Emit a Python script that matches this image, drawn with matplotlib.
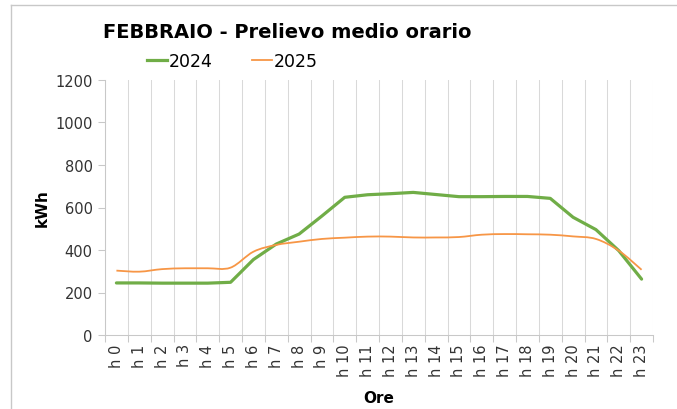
import matplotlib
matplotlib.use("Agg")
import matplotlib.pyplot as plt
from matplotlib.path import Path
from matplotlib.patches import PathPatch
from matplotlib.lines import Line2D
import numpy as np

hours = ["h 0", "h 1", "h 2", "h 3", "h 4", "h 5", "h 6", "h 7", "h 8", "h 9",
         "h 10", "h 11", "h 12", "h 13", "h 14", "h 15", "h 16", "h 17", "h 18",
         "h 19", "h 20", "h 21", "h 22", "h 23"]
v2024 = [245, 245, 244, 244, 244, 248, 355, 428, 475, 560, 648, 660, 665, 671,
         661, 651, 651, 652, 652, 643, 554, 496, 397, 263]
v2025 = [303, 298, 310, 314, 314, 317, 392, 424, 439, 452, 458, 463, 463, 459,
         459, 461, 472, 475, 474, 472, 464, 452, 397, 307]
title = "FEBBRAIO - Prelievo medio orario"
yticks = [0, 200, 400, 600, 800, 1000, 1200]

W, H = 677, 410
fig = plt.figure(figsize=(W / 100, H / 100), dpi=100)
ax = fig.add_axes([105 / W, (H - 336) / H, (653 - 105) / W, (336 - 81) / H])

x = np.arange(len(hours))

# 2024 straight line
ax.plot(x, v2024, color="#70AD47", lw=2.3, solid_joinstyle="round",
        solid_capstyle="round", zorder=3)


# 2025 smoothed line (Catmull-Rom style cubic Bezier, as Excel does)
def smooth_path(xs, ys):
    P = np.column_stack([xs, ys]).astype(float)
    n = len(P)
    verts = [P[0]]
    codes = [Path.MOVETO]
    for i in range(n - 1):
        p0 = P[i - 1] if i > 0 else P[i]
        p1 = P[i]
        p2 = P[i + 1]
        p3 = P[i + 2] if i + 2 < n else P[i + 1]
        c1 = p1 + (p2 - p0) / 6.0
        c2 = p2 - (p3 - p1) / 6.0
        verts += [c1, c2, p2]
        codes += [Path.CURVE4] * 3
    return Path(verts, codes)


patch = PathPatch(smooth_path(x, v2025), facecolor="none", edgecolor="#F79646",
                  lw=1.3, zorder=3)
ax.add_patch(patch)

ax.set_xlim(-0.5, len(hours) - 0.5)
ax.set_ylim(0, 1200)
ax.set_yticks(yticks)
ax.set_yticklabels([str(t) for t in yticks], fontsize=10.5, color="#333333")
ax.set_xticks(x)
ax.set_xticklabels(hours, rotation=90, fontsize=10.5, color="#333333")
ax.tick_params(axis="x", which="major", length=0, pad=6)
ax.set_xticks(np.arange(-0.5, len(hours), 1.0), minor=True)
ax.tick_params(axis="x", which="minor", length=5, color="#c8c8c8", width=0.75,
               direction="out")
ax.tick_params(axis="y", which="major", length=5, color="#c8c8c8", width=0.75,
               direction="out", pad=4)
ax.grid(True, axis="x", which="minor", color="#d9d9d9", lw=0.75)
ax.grid(False, axis="y")
for s in ["top", "right"]:
    ax.spines[s].set_visible(False)
ax.spines["left"].set_color("#c8c8c8")
ax.spines["bottom"].set_color("#c8c8c8")
ax.spines["left"].set_linewidth(0.75)
ax.spines["bottom"].set_linewidth(0.75)

ax.set_xlabel("Ore", fontsize=11, fontweight="bold", labelpad=10)
ax.set_ylabel("kWh", fontsize=11, fontweight="bold", labelpad=4)

fig.text(103 / W, 1 - 32 / H, title, fontsize=14, fontweight="bold",
         ha="left", va="center", color="#000000")

# legend
leg_handles = [Line2D([], [], color="#70AD47", lw=2.3),
               Line2D([], [], color="#F79646", lw=1.3)]
fig.legend(leg_handles, ["2024", "2025"], loc="center left",
           bbox_to_anchor=(147 / W, 1 - 62 / H), ncol=2, frameon=False,
           fontsize=12.5, handlelength=1.15, handletextpad=0.1, columnspacing=2.25,
           borderpad=0, borderaxespad=0)

# outer frame (partially visible)
fig.add_artist(Line2D([11 / W, 1.0], [1 - 6 / H, 1 - 6 / H], color="#c8c8c8", lw=1.0))
fig.add_artist(Line2D([11 / W, 11 / W], [0, 1 - 6 / H], color="#c8c8c8", lw=1.0))

fig.savefig("out.png", dpi=100)
